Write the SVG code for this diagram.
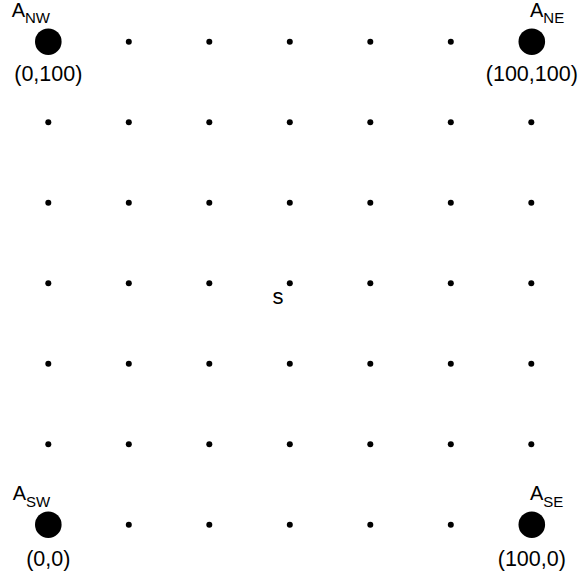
<svg xmlns="http://www.w3.org/2000/svg" width="580" height="577" viewBox="0 0 580 577">
<style>
text{font-family:"Liberation Sans",Arial,Helvetica,sans-serif;fill:#000}
.big{fill:#000}
.dot{fill:#000}
.lbl{font-size:20px}
.sub{font-size:15px}
.coord{font-size:21.5px;text-anchor:middle}
.s{font-size:22px}
</style>
<defs>
<circle id="d" r="3" class="dot"/>
<circle id="b" r="13.3" class="big"/>
</defs>
<g id="connectors"/>
<g id="A_NW"><use href="#b" x="48.3" y="41.7"/><text class="lbl" x="11.7" y="16.7">A<tspan class="sub" dy="6.6">NW</tspan></text><text class="coord" x="48.3" y="81">(0,100)</text></g>
<g id="A_NE"><use href="#b" x="531.8" y="41.7"/><text class="lbl" x="530" y="16.7">A<tspan class="sub" dy="6.6">NE</tspan></text><text class="coord" x="531.8" y="81">(100,100)</text></g>
<g id="A_SW"><use href="#b" x="48.3" y="524.7"/><text class="lbl" x="12.7" y="500">A<tspan class="sub" dy="6.6">SW</tspan></text><text class="coord" x="48.3" y="566">(0,0)</text></g>
<g id="A_SE"><use href="#b" x="531.8" y="524.7"/><text class="lbl" x="530" y="500">A<tspan class="sub" dy="6.6">SE</tspan></text><text class="coord" x="531.8" y="566">(100,0)</text></g>
<g id="s"><use href="#d" x="289.8" y="283.2"/><text class="s" x="272.5" y="304">s</text></g>
<g id="grid">
<use href="#d" x="128.8" y="41.7"/><use href="#d" x="209.3" y="41.7"/><use href="#d" x="289.8" y="41.7"/><use href="#d" x="370.3" y="41.7"/><use href="#d" x="450.8" y="41.7"/>
<use href="#d" x="48.3" y="122.2"/><use href="#d" x="128.8" y="122.2"/><use href="#d" x="209.3" y="122.2"/><use href="#d" x="289.8" y="122.2"/><use href="#d" x="370.3" y="122.2"/><use href="#d" x="450.8" y="122.2"/><use href="#d" x="531.3" y="122.2"/>
<use href="#d" x="48.3" y="202.7"/><use href="#d" x="128.8" y="202.7"/><use href="#d" x="209.3" y="202.7"/><use href="#d" x="289.8" y="202.7"/><use href="#d" x="370.3" y="202.7"/><use href="#d" x="450.8" y="202.7"/><use href="#d" x="531.3" y="202.7"/>
<use href="#d" x="48.3" y="283.2"/><use href="#d" x="128.8" y="283.2"/><use href="#d" x="209.3" y="283.2"/><use href="#d" x="370.3" y="283.2"/><use href="#d" x="450.8" y="283.2"/><use href="#d" x="531.3" y="283.2"/>
<use href="#d" x="48.3" y="363.7"/><use href="#d" x="128.8" y="363.7"/><use href="#d" x="209.3" y="363.7"/><use href="#d" x="289.8" y="363.7"/><use href="#d" x="370.3" y="363.7"/><use href="#d" x="450.8" y="363.7"/><use href="#d" x="531.3" y="363.7"/>
<use href="#d" x="48.3" y="444.2"/><use href="#d" x="128.8" y="444.2"/><use href="#d" x="209.3" y="444.2"/><use href="#d" x="289.8" y="444.2"/><use href="#d" x="370.3" y="444.2"/><use href="#d" x="450.8" y="444.2"/><use href="#d" x="531.3" y="444.2"/>
<use href="#d" x="128.8" y="524.7"/><use href="#d" x="209.3" y="524.7"/><use href="#d" x="289.8" y="524.7"/><use href="#d" x="370.3" y="524.7"/><use href="#d" x="450.8" y="524.7"/>
</g>
</svg>
